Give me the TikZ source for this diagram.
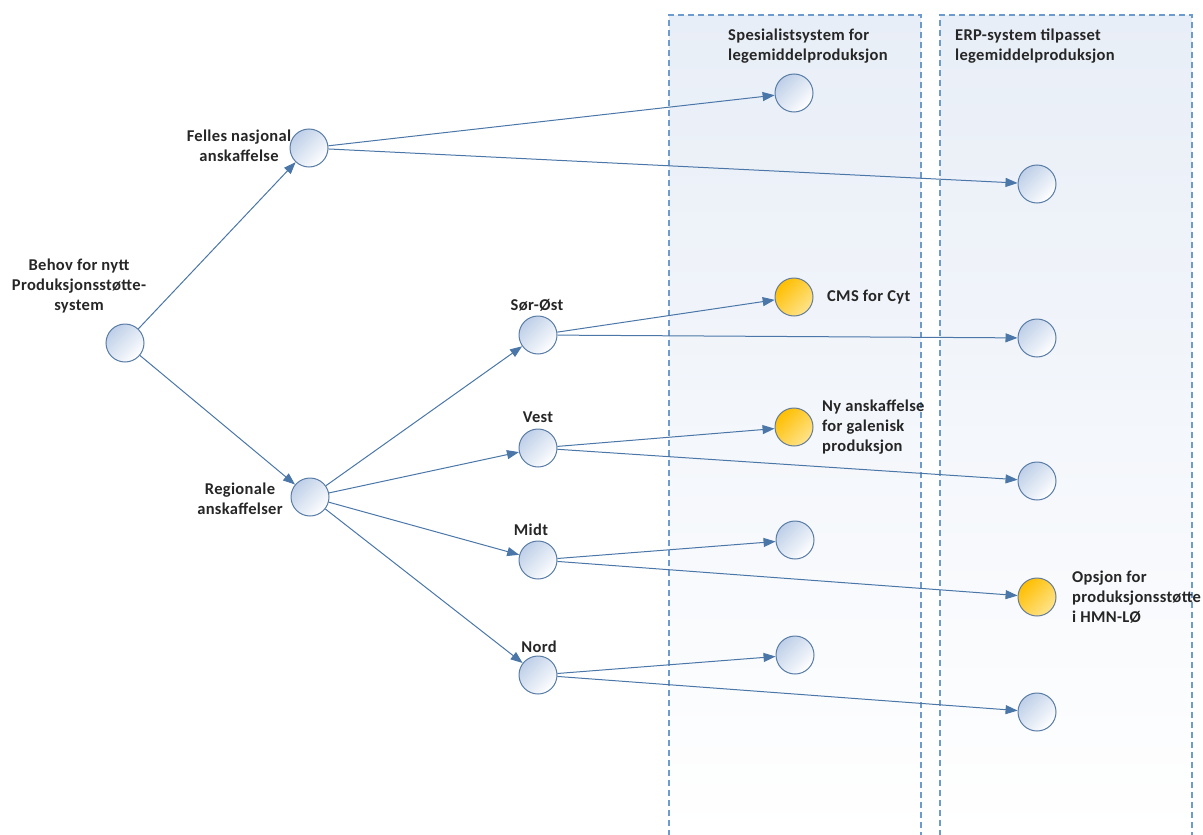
\documentclass[tikz,border=0pt]{standalone}
\usepackage{fontspec}
\setmainfont{Carlito}[LetterSpace=2]
\usetikzlibrary{arrows.meta}
\definecolor{lineblue}{RGB}{74,118,168}
\definecolor{rimblue}{RGB}{88,124,166}
\definecolor{ballblue}{RGB}{190,207,232}
\definecolor{lanefill}{RGB}{232,238,247}
\definecolor{lanedash}{RGB}{110,155,205}
\definecolor{ballgold}{RGB}{255,190,0}
\definecolor{ballgoldlight}{RGB}{255,228,140}
\tikzset{
  ball/.style={circle, draw=rimblue, line width=1pt, minimum size=38pt, inner sep=0pt,
    top color=ballblue, bottom color=white, shading angle=45},
  goldball/.style={ball, top color=ballgold, bottom color=ballgoldlight, shading angle=45, draw=rimblue!70!gray},
  lbl/.style={font=\bfseries\fontsize{16.5}{20}\selectfont, align=center, inner sep=0pt, text=black!85},
  lbll/.style={lbl, align=left},
  conn/.style={draw=lineblue, line width=1pt, -{Triangle[length=12pt,width=9pt]}},
  lane/.style={draw=lanedash, line width=1.1pt, dash pattern=on 6pt off 4pt,
    top color=lanefill, middle color=lanefill!35, bottom color=white}
}
\begin{document}
\begin{tikzpicture}[x=1pt,y=-1pt]
\useasboundingbox (0,0) rectangle (1203,835);
% lanes
\path[lane] (669,836) -- (669,15) -- (921,15) -- (921,836);
\path[lane] (940,836) -- (940,15) -- (1192,15) -- (1192,836);
\node[lbll, anchor=west] (h1) at (728,46) {Spesialistsystem for\\legemiddelproduksjon};
\node[lbll, anchor=west] (h2) at (955,46) {ERP-system tilpasset\\legemiddelproduksjon};
% nodes
\node[ball] (R) at (125,343) {};
\node[ball] (F) at (309,148) {};
\node[ball] (G) at (310,497) {};
\node[ball] (SO) at (538,335) {};
\node[ball] (V) at (538,448) {};
\node[ball] (M) at (538,560) {};
\node[ball] (N) at (538,675) {};
\node[ball] (s1) at (794,93) {};
\node[goldball] (s2) at (794,297) {};
\node[goldball] (s3) at (794,427) {};
\node[ball] (s4) at (795,540) {};
\node[ball] (s5) at (795,655) {};
\node[ball] (e1) at (1037,184) {};
\node[ball] (e2) at (1037,338) {};
\node[ball] (e3) at (1037,481) {};
\node[goldball] (e4) at (1037,597) {};
\node[ball] (e5) at (1037,712) {};
% labels
\node[lbl] (lR) at (79,286) {Behov for nytt\\Produksjonsstøtte-\\system};
\node[lbl] (lF) at (239,146) {Felles nasjonal\\anskaffelse};
\node[lbl] (lG) at (240,499) {Regionale\\anskaffelser};
\node[lbl] (lSO) at (537,305) {Sør-Øst};
\node[lbl] (lV) at (538,417) {Vest};
\node[lbl] (lM) at (531,530) {Midt};
\node[lbl] (lN) at (539,647) {Nord};
\node[lbll, anchor=west] (ls2) at (827,297) {CMS for Cyt};
\node[lbll, anchor=west] (ls3) at (822,427) {Ny anskaffelse\\for galenisk\\produksjon};
\node[lbll, anchor=west] (le4) at (1072,597) {Opsjon for\\produksjonsstøtte\\i HMN-LØ};
% connectors
\draw[conn] (R) -- (F);
\draw[conn] (R) -- (G);
\draw[conn] (F) -- (s1);
\draw[conn] (F) -- (e1);
\draw[conn] (G) -- (SO);
\draw[conn] (G) -- (V);
\draw[conn] (G) -- (M);
\draw[conn] (G) -- (N);
\draw[conn] (SO) -- (s2);
\draw[conn] (SO) -- (e2);
\draw[conn] (V) -- (s3);
\draw[conn] (V) -- (e3);
\draw[conn] (M) -- (s4);
\draw[conn] (M) -- (e4);
\draw[conn] (N) -- (s5);
\draw[conn] (N) -- (e5);
\end{tikzpicture}
\end{document}
